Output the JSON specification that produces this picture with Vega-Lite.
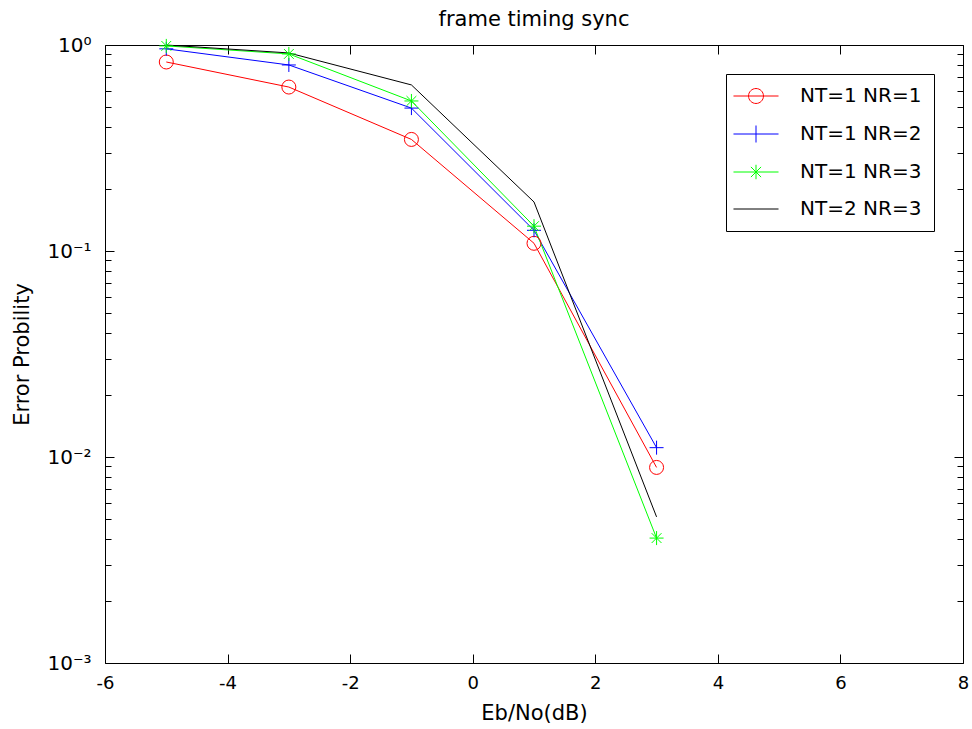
{
  "$schema": "https://vega.github.io/schema/vega-lite/v6.json",
  "width": 858,
  "height": 618,
  "autosize": "none",
  "padding": {"left": 105, "top": 45, "right": 9, "bottom": 66},
  "background": "white",
  "config": {
    "view": {"stroke": null},
    "font": "DejaVu Sans",
    "axis": {"domainColor": "black", "tickColor": "black", "labelColor": "black", "titleColor": "black", "labelFont": "DejaVu Sans", "titleFont": "DejaVu Sans", "titleFontWeight": "normal", "domainWidth": 1, "tickWidth": 1},
    "legend": {
      "title": null, "orient": "top-right", "offset": 29,
      "strokeColor": "black", "fillColor": "white", "padding": 12,
      "symbolSize": 289, "symbolStrokeWidth": 1, "symbolOffset": 8,
      "labelFontSize": 20, "labelFont": "DejaVu Sans", "labelColor": "black", "labelOffset": 34, "labelLimit": 300,
      "rowPadding": 17
    }
  },
  "title": {"text": "frame timing sync", "fontSize": 21, "fontWeight": "normal", "font": "DejaVu Sans", "color": "black", "offset": 5, "anchor": "middle"},
  "data": {"values": [
    {"series": "NT=1 NR=1", "x": -5, "y": 0.827},
    {"series": "NT=1 NR=1", "x": -3, "y": 0.625},
    {"series": "NT=1 NR=1", "x": -1, "y": 0.348},
    {"series": "NT=1 NR=1", "x": 1, "y": 0.109},
    {"series": "NT=1 NR=1", "x": 3, "y": 0.0089},
    {"series": "NT=1 NR=2", "x": -5, "y": 0.958},
    {"series": "NT=1 NR=2", "x": -3, "y": 0.80},
    {"series": "NT=1 NR=2", "x": -1, "y": 0.494},
    {"series": "NT=1 NR=2", "x": 1, "y": 0.126},
    {"series": "NT=1 NR=2", "x": 3, "y": 0.0111},
    {"series": "NT=1 NR=3", "x": -5, "y": 0.99},
    {"series": "NT=1 NR=3", "x": -3, "y": 0.905},
    {"series": "NT=1 NR=3", "x": -1, "y": 0.535},
    {"series": "NT=1 NR=3", "x": 1, "y": 0.132},
    {"series": "NT=1 NR=3", "x": 3, "y": 0.00404},
    {"series": "NT=2 NR=3", "x": -5, "y": 1.0},
    {"series": "NT=2 NR=3", "x": -3, "y": 0.915},
    {"series": "NT=2 NR=3", "x": -1, "y": 0.64},
    {"series": "NT=2 NR=3", "x": 1, "y": 0.173},
    {"series": "NT=2 NR=3", "x": 3, "y": 0.00512}
  ]},
  "layer": [
    {
      "mark": {"type": "line", "strokeWidth": 1, "clip": false},
      "encoding": {
        "x": {"field": "x", "type": "quantitative", "scale": {"domain": [-6, 8], "nice": false, "zero": false},
          "axis": {"orient": "bottom", "values": [-6, -4, -2, 0, 2, 4, 6, 8], "grid": false, "tickSize": -9, "labelFontSize": 18, "labelPadding": 20, "labelFlush": false,
            "labelExpr": "datum.value < 0 ? '-' + abs(datum.value) : '' + datum.value",
            "title": "Eb/No(dB)", "titleFontSize": 21, "titlePadding": 10}},
        "y": {"field": "y", "type": "quantitative", "scale": {"type": "log", "domain": [0.001, 1], "nice": false},
          "axis": {"orient": "left", "grid": false,
            "values": [0.001, 0.002, 0.003, 0.004, 0.005, 0.006, 0.007, 0.008, 0.009, 0.01, 0.02, 0.03, 0.04, 0.05, 0.06, 0.07, 0.08, 0.09, 0.1, 0.2, 0.3, 0.4, 0.5, 0.6, 0.7, 0.8, 0.9, 1],
            "labelExpr": "datum.value == 1 ? '10⁰' : (abs(datum.value - 0.1) < 1e-9 ? '10⁻¹' : (abs(datum.value - 0.01) < 1e-10 ? '10⁻²' : (abs(datum.value - 0.001) < 1e-11 ? '10⁻³' : '')))",
            "tickSize": {"condition": {"test": "datum.value == 1 || abs(datum.value - 0.1) < 1e-9 || abs(datum.value - 0.01) < 1e-10 || abs(datum.value - 0.001) < 1e-11", "value": -9}, "value": -6},
            "labelFontSize": 20, "labelPadding": 23, "labelFlush": false, "labelOverlap": false,
            "title": "Error Probility", "titleFontSize": 21, "titlePadding": 14}},
        "stroke": {"field": "series", "type": "nominal", "scale": {"domain": ["NT=1 NR=1", "NT=1 NR=2", "NT=1 NR=3", "NT=2 NR=3"], "range": ["#ff0000", "#0000ff", "#00ff00", "#000000"]},
          "legend": {
            "encode": {"symbols": {"update": {
              "shape": {"signal": "datum.value == 'NT=1 NR=1' ? 'M-2.65,0H2.65M-0.88,0A0.88,0.88 0 1,1 0.88,0A0.88,0.88 0 1,1 -0.88,0' : (datum.value == 'NT=1 NR=2' ? 'M-2.65,0H2.65M0,-1V1' : (datum.value == 'NT=1 NR=3' ? 'M-2.65,0H2.65M0,-0.85V0.85M-0.6,-0.6L0.6,0.6M-0.6,0.6L0.6,-0.6' : 'M-2.65,0H2.65'))"},
              "fill": {"value": "transparent"},
              "strokeWidth": {"value": 1}
            }}}
          }},
        "detail": {"field": "series"}
      }
    },
    {
      "transform": [{"filter": "datum.series != 'NT=2 NR=3'"}],
      "mark": {"type": "point", "filled": false, "strokeWidth": 1, "opacity": 1, "size": 196, "clip": false},
      "encoding": {
        "x": {"field": "x", "type": "quantitative",
          "axis": {"orient": "top", "values": [-6, -4, -2, 0, 2, 4, 6, 8], "grid": false, "tickSize": -9, "labels": false, "title": null}},
        "y": {"field": "y", "type": "quantitative",
          "axis": {"orient": "right", "grid": false, "labels": false, "title": null,
            "values": [0.001, 0.002, 0.003, 0.004, 0.005, 0.006, 0.007, 0.008, 0.009, 0.01, 0.02, 0.03, 0.04, 0.05, 0.06, 0.07, 0.08, 0.09, 0.1, 0.2, 0.3, 0.4, 0.5, 0.6, 0.7, 0.8, 0.9, 1],
            "tickSize": {"condition": {"test": "datum.value == 1 || abs(datum.value - 0.1) < 1e-9 || abs(datum.value - 0.01) < 1e-10 || abs(datum.value - 0.001) < 1e-11", "value": -9}, "value": -6}}},
        "stroke": {"field": "series", "type": "nominal", "legend": null},
        "shape": {"field": "series", "type": "nominal",
          "scale": {"domain": ["NT=1 NR=1", "NT=1 NR=2", "NT=1 NR=3"], "range": ["circle", "M-1,0H1M0,-1V1", "M-1,0H1M0,-1V1M-0.7,-0.7L0.7,0.7M-0.7,0.7L0.7,-0.7"]},
          "legend": null}
      }
    }
  ],
  "resolve": {"axis": {"x": "independent", "y": "independent"}}
}
